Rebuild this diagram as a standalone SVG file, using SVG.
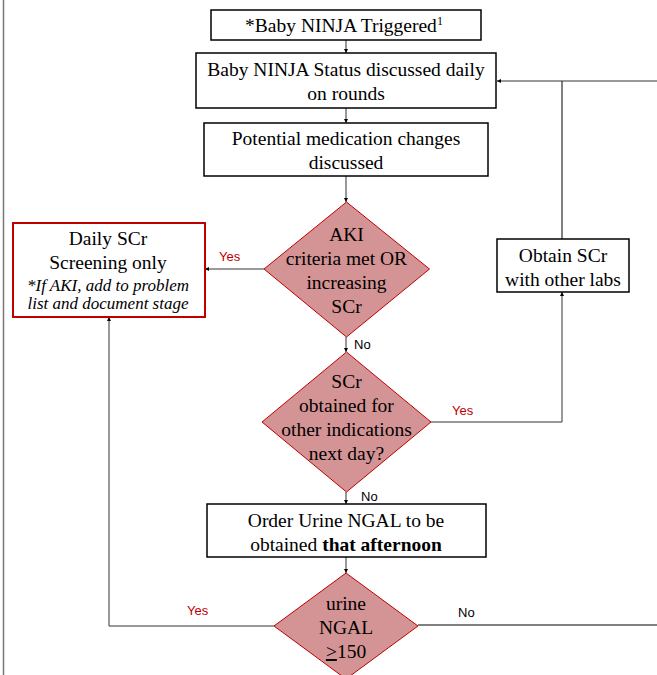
<svg xmlns="http://www.w3.org/2000/svg" width="657" height="675" viewBox="0 0 657 675">
<defs>
<marker id="ah" viewBox="0 0 10 10" refX="10" refY="5" markerWidth="4" markerHeight="4" orient="auto-start-reverse" markerUnits="strokeWidth">
<path d="M0,0 L10,5 L0,10 z" fill="#000"/>
</marker>
<style>
.box{fill:#fff;stroke:#000;stroke-width:1.5}
.rbox{fill:#fff;stroke:#c00000;stroke-width:2}
.dia{fill:#d49394;stroke:#c00000;stroke-width:1}
.t{font-family:"Liberation Serif",serif;font-size:19.5px;fill:#000;text-anchor:middle}
.it{font-style:italic;font-size:17px}
.lbl{font-family:"Liberation Sans",Arial,sans-serif;font-size:13px}
.yes{fill:#c00000}
.no{fill:#000}
.c{fill:none;stroke:#333;stroke-width:1}
.k{stroke:#000}
</style>
</defs>
<rect width="657" height="675" fill="#fff"/>
<line x1="3.5" y1="0" x2="3.5" y2="675" stroke="#777" stroke-width="1.5"/>

<g id="connectors">
<line class="c" x1="346" y1="40" x2="346" y2="53" marker-end="url(#ah)"/>
<line class="c" x1="346" y1="108" x2="346" y2="123" marker-end="url(#ah)"/>
<line class="c" x1="346" y1="176" x2="346" y2="202" marker-end="url(#ah)"/>
<line class="c" x1="264" y1="269" x2="205" y2="269" marker-end="url(#ah)"/>
<line class="c" x1="346" y1="337" x2="346" y2="352" marker-end="url(#ah)"/>
<polyline class="c" points="431,422 562,422 562,292" marker-end="url(#ah)"/>
<line class="c k" x1="562" y1="239" x2="562" y2="81"/>
<line class="c" x1="657" y1="81" x2="497" y2="81" marker-end="url(#ah)"/>
<line class="c" x1="346" y1="492" x2="346" y2="504" marker-end="url(#ah)"/>
<line class="c" x1="346" y1="557" x2="346" y2="573" marker-end="url(#ah)"/>
<polyline class="c" points="274,626 109,626 109,317" marker-end="url(#ah)"/>
<line class="c k" x1="418" y1="625" x2="657" y2="625"/>
<text class="lbl yes" x="219" y="261">Yes</text>
<text class="lbl no" x="354" y="349">No</text>
<text class="lbl yes" x="452" y="415">Yes</text>
<text class="lbl no" x="361" y="501">No</text>
<text class="lbl yes" x="187" y="615">Yes</text>
<text class="lbl no" x="458" y="617">No</text>
</g>

<g id="triggered">
<rect class="box" x="211" y="10" width="270" height="30"/>
<text class="t" x="344" y="32">*Baby NINJA Triggered<tspan font-size="12" dy="-7">1</tspan></text>
</g>

<g id="status">
<rect class="box" x="196" y="53" width="300" height="55"/>
<text class="t" x="346" y="76">Baby NINJA Status discussed daily</text>
<text class="t" x="346" y="100">on rounds</text>
</g>

<g id="medication">
<rect class="box" x="204" y="123" width="284" height="53"/>
<text class="t" x="346" y="145">Potential medication changes</text>
<text class="t" x="346" y="169">discussed</text>
</g>

<g id="aki">
<polygon class="dia" points="346.5,202 429.5,269 346.5,337 264,269"/>
<text class="t" x="346.5" y="241">AKI</text>
<text class="t" x="346.5" y="265">criteria met OR</text>
<text class="t" x="346.5" y="289">increasing</text>
<text class="t" x="346.5" y="313">SCr</text>
</g>

<g id="daily-scr">
<rect class="rbox" x="13" y="223" width="192" height="94"/>
<text class="t" x="108" y="245">Daily SCr</text>
<text class="t" x="108" y="269">Screening only</text>
<text class="t it" x="108" y="291">*If AKI, add to problem</text>
<text class="t it" x="108" y="309">list and document stage</text>
</g>

<g id="obtain-scr">
<rect class="box" x="497" y="239" width="132" height="53"/>
<text class="t" x="563" y="262">Obtain SCr</text>
<text class="t" x="563" y="286">with other labs</text>
</g>

<g id="scr-obtained">
<polygon class="dia" points="346.5,352 431,422 346.5,492 262,422"/>
<text class="t" x="346.5" y="388">SCr</text>
<text class="t" x="346.5" y="412">obtained for</text>
<text class="t" x="346.5" y="436">other indications</text>
<text class="t" x="346.5" y="460">next day?</text>
</g>

<g id="order-ngal">
<rect class="box" x="207" y="504" width="279" height="53"/>
<text class="t" x="346" y="527">Order Urine NGAL to be</text>
<text class="t" x="346" y="551">obtained <tspan font-weight="bold">that afternoon</tspan></text>
</g>

<g id="ngal">
<polygon class="dia" points="346,573 418,626 346,679 274,626"/>
<text class="t" x="346" y="610">urine</text>
<text class="t" x="346" y="634">NGAL</text>
<text class="t" x="346" y="658"><tspan text-decoration="underline">&gt;</tspan>150</text>
</g>
</svg>
